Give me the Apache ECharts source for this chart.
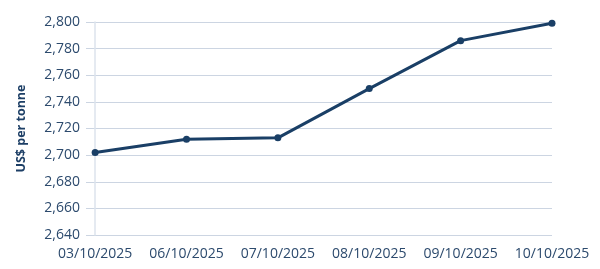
<!DOCTYPE html>
<html><head><meta charset="utf-8">
<script src="https://cdn.jsdelivr.net/npm/echarts@6/dist/echarts.min.js"></script>
<style>html,body{margin:0;padding:0;background:#fff}#c{width:600px;height:269px}</style>
</head><body><div id="c"></div>
<script>
const categories = ['03/10/2025','06/10/2025','07/10/2025','08/10/2025','09/10/2025','10/10/2025'];
const prices = [2702, 2712, 2713, 2750, 2786, 2799];
const yTicks = [2640, 2660, 2680, 2700, 2720, 2740, 2760, 2780, 2800];
const yTitle = 'US$ per tonne';

const chart = echarts.init(document.getElementById('c'));
const textColor = '#2c4a6d';
chart.setOption({
  animation: false,
  grid: {left: 86, right: 48, top: 22, bottom: 34},
  xAxis: {
    type: 'value', min: -0.1, max: categories.length - 1,
    axisLine: {show: false}, axisTick: {show: false}, splitLine: {show: false},
    axisLabel: {
      customValues: categories.map((c, i) => i),
      formatter: v => categories[Math.round(v)] || '',
      color: textColor, fontFamily: 'Open Sans', fontSize: 14, margin: 12
    }
  },
  yAxis: {
    type: 'value', min: yTicks[0], max: yTicks[yTicks.length - 1], interval: 20,
    name: yTitle, nameLocation: 'middle', nameGap: 58,
    nameTextStyle: {color: '#1d3f66', fontFamily: 'Open Sans', fontSize: 12.5, fontWeight: 'bold'},
    axisLine: {show: true, onZero: true, lineStyle: {color: '#dde3ec', width: 1.5}},
    axisTick: {show: false},
    splitLine: {lineStyle: {color: '#ccd5e2', width: 1}},
    axisLabel: {
      color: textColor, fontFamily: 'Open Sans', fontSize: 14, margin: 6,
      formatter: v => v.toLocaleString('en-US')
    }
  },
  series: [{
    type: 'line',
    data: prices.map((p, i) => [i, p]),
    symbol: 'circle', symbolSize: 7,
    lineStyle: {color: '#1a3f66', width: 3},
    itemStyle: {color: '#1a3f66'}
  }]
});
</script></body></html>
